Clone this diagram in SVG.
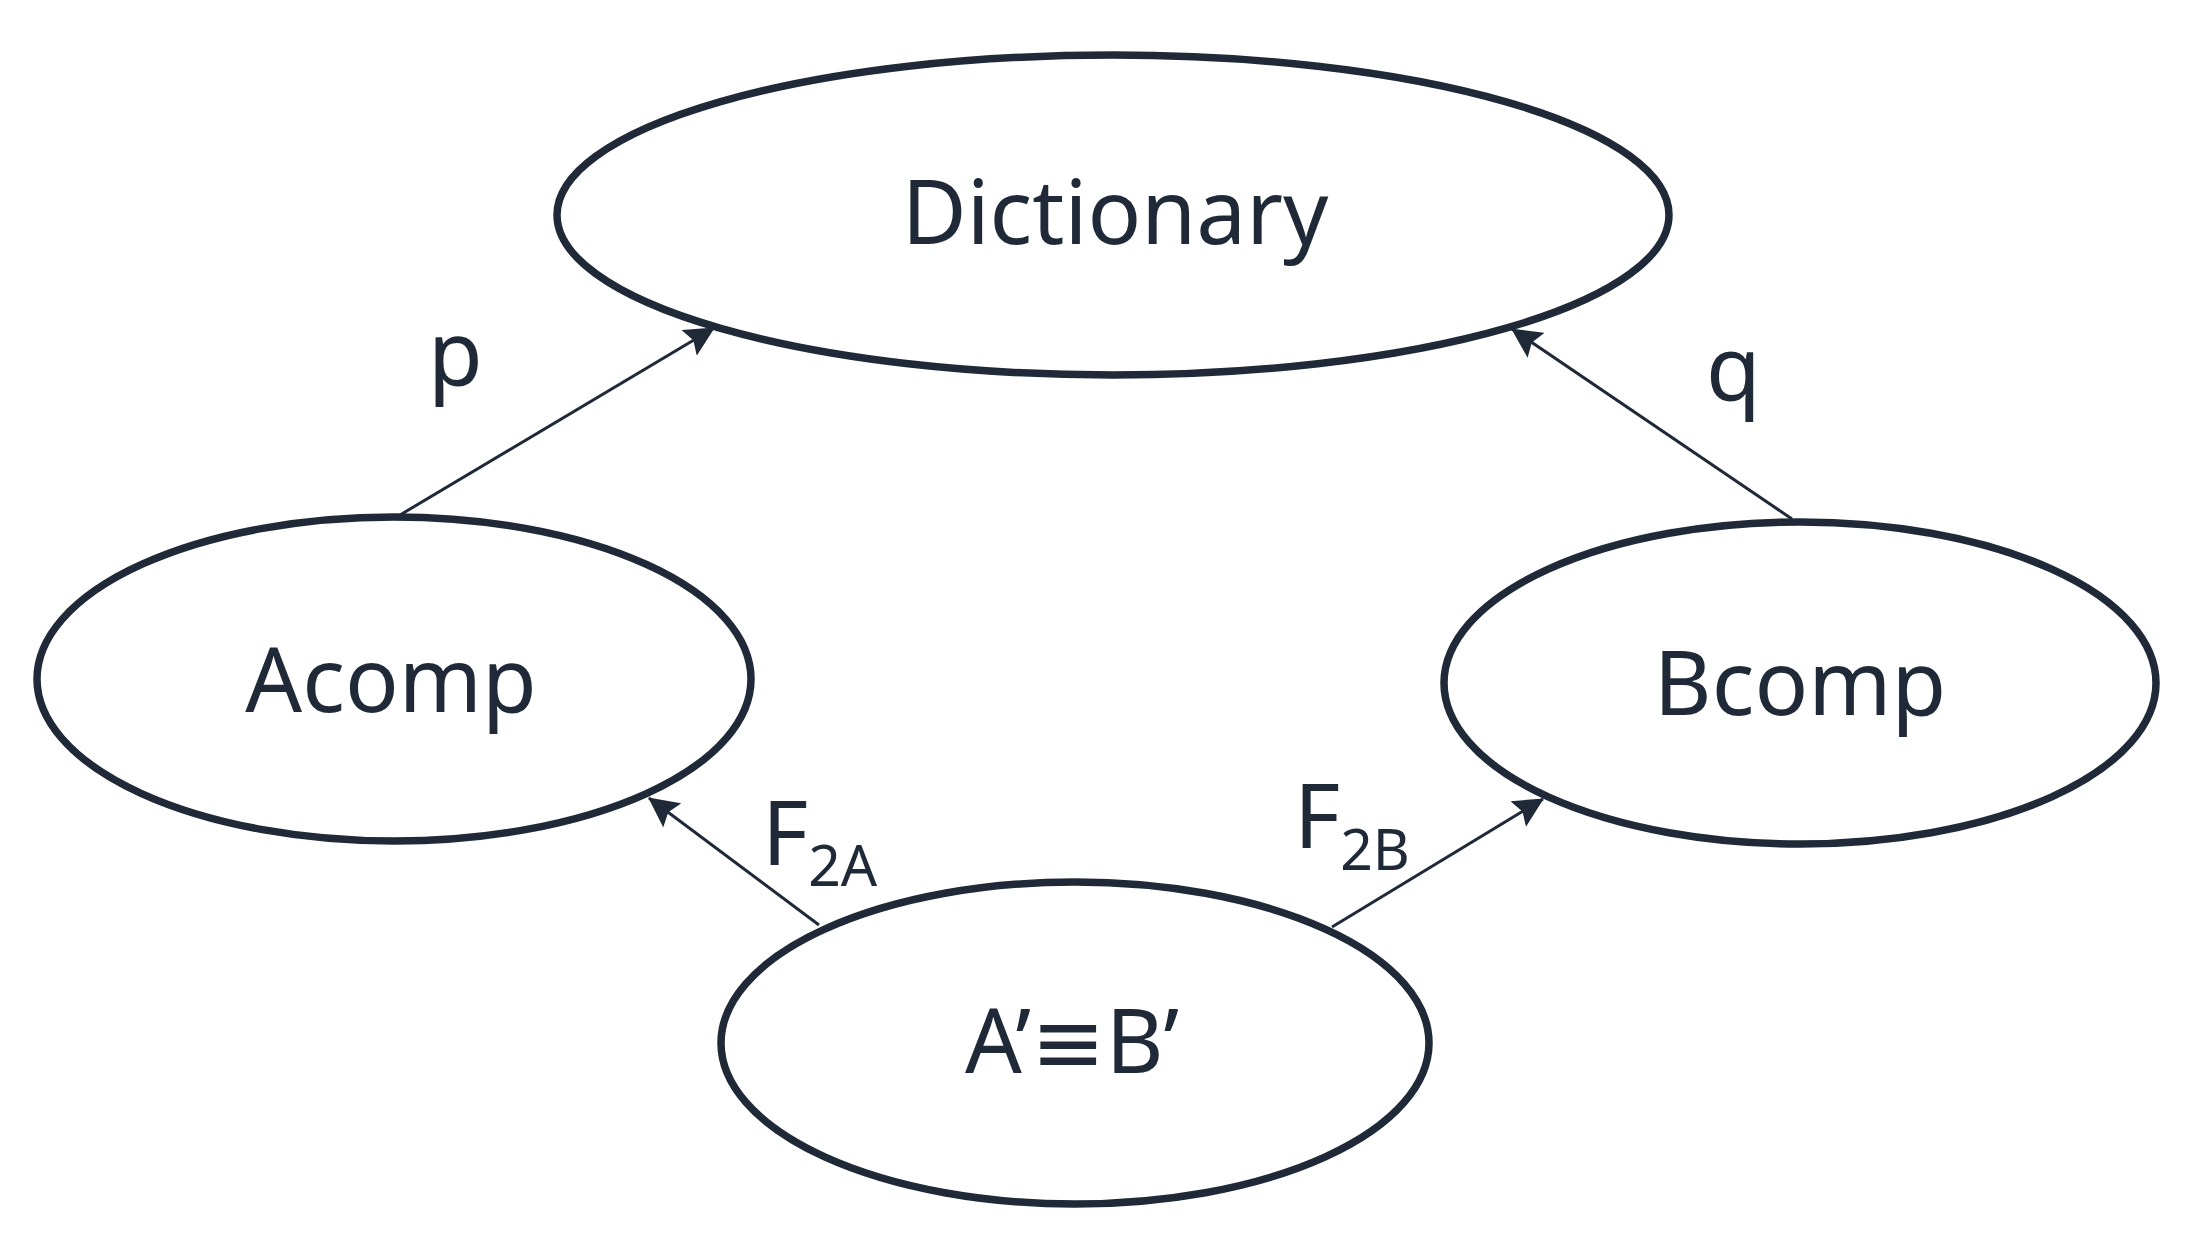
<svg xmlns="http://www.w3.org/2000/svg" width="2187" height="1244" viewBox="0 0 2187 1244">
<style>
.node{fill:#ffffff;stroke:#1f2937;stroke-width:7.5}
.lbl{font-family:"Noto Sans","Open Sans","DejaVu Sans",sans-serif;font-size:89px;fill:#1f2937;text-anchor:middle}
.el{font-family:"Noto Sans","Open Sans","DejaVu Sans",sans-serif;font-size:89px;fill:#1f2937}
.sub{font-size:57px}
.edge{stroke:#1f2937;stroke-width:3;fill:none;marker-end:url(#arr)}
</style>
<defs>
<marker id="arr" viewBox="0 0 30 30" refX="29" refY="15" markerWidth="30" markerHeight="30" markerUnits="userSpaceOnUse" orient="auto">
<path d="M0,0 L30,15 L0,30 L5,15 z" fill="#1f2937"/>
</marker>
</defs>
<rect width="2187" height="1244" fill="#ffffff"/>
<g id="dictionary">
<ellipse class="node" cx="1113" cy="215" rx="556" ry="160"/>
<text class="lbl" x="1115" y="244">Dictionary</text>
</g>
<g id="acomp">
<ellipse class="node" cx="394" cy="679" rx="357" ry="162"/>
<text class="lbl" x="391" y="712">Acomp</text>
</g>
<g id="bcomp">
<ellipse class="node" cx="1800" cy="683" rx="356" ry="161"/>
<text class="lbl" x="1800" y="715">Bcomp</text>
</g>
<g id="aeqb">
<ellipse class="node" cx="1075" cy="1043" rx="354" ry="161"/>
<text class="lbl" x="1072" y="1073">A’≡B’</text>
</g>
<g id="connectors">
<line class="edge" x1="400" y1="515" x2="714" y2="328"/>
<line class="edge" x1="1792" y1="519" x2="1512" y2="329"/>
<line class="edge" x1="819" y1="925" x2="649" y2="798"/>
<line class="edge" x1="1332" y1="927" x2="1543" y2="799"/>
<text class="el" x="428" y="385">p</text>
<text class="el" x="1706" y="400">q</text>
<text class="el" x="762" y="865">F<tspan class="sub" dy="21">2A</tspan></text>
<text class="el" x="1294" y="848">F<tspan class="sub" dy="22">2B</tspan></text>
</g>
</svg>
